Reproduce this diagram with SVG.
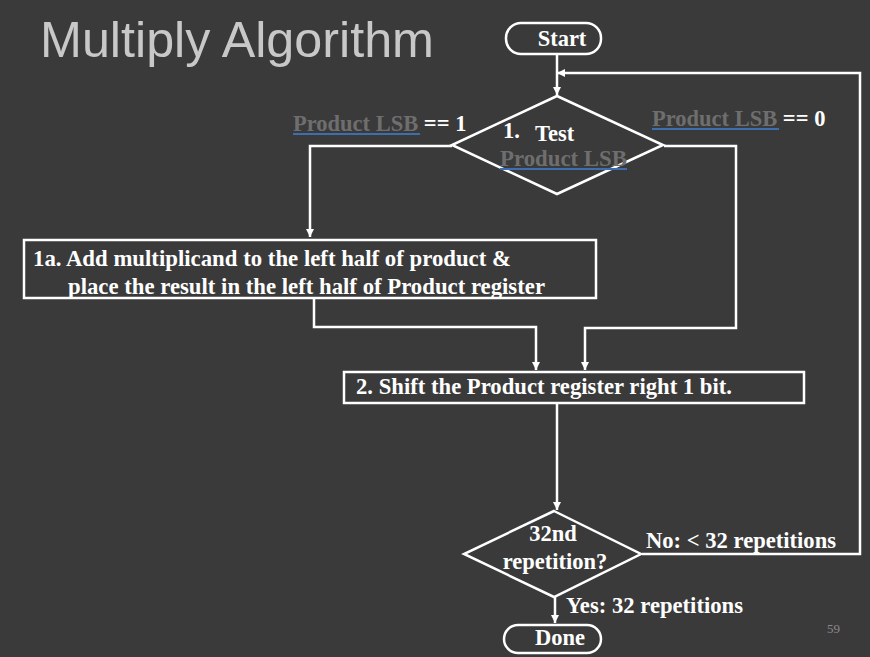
<svg xmlns="http://www.w3.org/2000/svg" width="870" height="657" viewBox="0 0 870 657">
<defs>
<marker id="ah2" viewBox="0 0 10 10" refX="10" refY="5" markerWidth="8" markerHeight="8" orient="auto" markerUnits="userSpaceOnUse">
<path d="M0,0 L10,5 L0,10 z" fill="#ffffff"/>
</marker>
<style>
.shape{fill:none;stroke:#ffffff;stroke-width:2.5}
.conn{fill:none;stroke:#ffffff;stroke-width:2.5;marker-end:url(#ah2)}
.t{font-family:"Liberation Serif","Times New Roman",serif;font-weight:bold;font-size:22.5px;fill:#ffffff}
.g{fill:#6e6e6e}
.ul{stroke:#3d6eb0;stroke-width:2}
</style>
</defs>
<rect width="870" height="657" fill="#3a3a3a"/>
<text x="40" y="57" font-family="'Liberation Sans',Arial,sans-serif" font-size="50" fill="#c8c8c8" textLength="394" lengthAdjust="spacingAndGlyphs">Multiply Algorithm</text>
<g id="connectors">
<line class="conn" x1="557" y1="54" x2="557" y2="95"/>
<polyline class="conn" points="642,554 860,554 860,73 557,73"/>
<polyline class="conn" points="452,146 310,146 310,237"/>
<polyline class="conn" points="664,146 736,146 736,328 585,328 585,370"/>
<polyline class="conn" points="314,298 314,327 536,327 536,370"/>
<line class="conn" x1="557" y1="403" x2="557" y2="510"/>
<line class="conn" x1="555" y1="597" x2="555" y2="623"/>
</g>
<g id="start">
<rect class="shape" x="506" y="23" width="95" height="31" rx="15"/>
<text class="t" x="562" y="46" text-anchor="middle">Start</text>
</g>
<g id="test">
<polygon class="shape" points="557,96 663,145 557,194 452,145"/>
<text class="t" x="503" y="138">1.</text>
<text class="t" x="535" y="141">Test</text>
<text class="t g" x="500" y="166" font-size="21" textLength="127" lengthAdjust="spacingAndGlyphs">Product LSB</text>
<line class="ul" x1="500" y1="169" x2="627" y2="169"/>
</g>
<g id="label1">
<text class="t" x="293" y="131"><tspan class="g">Product LSB</tspan> == 1</text>
<line class="ul" x1="293" y1="134" x2="420" y2="134"/>
</g>
<g id="label0">
<text class="t" x="652" y="126"><tspan class="g">Product LSB</tspan> == 0</text>
<line class="ul" x1="652" y1="129" x2="779" y2="129"/>
</g>
<g id="step1a">
<rect class="shape" x="24" y="240" width="572" height="58"/>
<text class="t" x="33" y="266" textLength="478" lengthAdjust="spacingAndGlyphs">1a. Add multiplicand to the left half of product &amp;</text>
<text class="t" x="68" y="294" textLength="477" lengthAdjust="spacingAndGlyphs">place the result in the left half of Product register</text>
</g>
<g id="step2">
<rect class="shape" x="344" y="372" width="460" height="31"/>
<text class="t" x="356" y="394" textLength="376" lengthAdjust="spacingAndGlyphs">2. Shift the Product register right 1 bit.</text>
</g>
<g id="rep">
<polygon class="shape" points="554,511 641,554 554,597 464,554"/>
<text class="t" x="553" y="541" text-anchor="middle">32nd</text>
<text class="t" x="555" y="569" text-anchor="middle">repetition?</text>
</g>
<text class="t" x="646" y="548" textLength="190" lengthAdjust="spacingAndGlyphs">No: &lt; 32 repetitions</text>
<text class="t" x="566" y="613" textLength="177" lengthAdjust="spacingAndGlyphs">Yes: 32 repetitions</text>
<g id="done">
<rect class="shape" x="504" y="625" width="97" height="28" rx="14"/>
<text class="t" x="560" y="645" text-anchor="middle">Done</text>
</g>
<text x="827" y="633" font-family="'Liberation Serif',serif" font-size="13" fill="#8a8a8a">59</text>
</svg>
